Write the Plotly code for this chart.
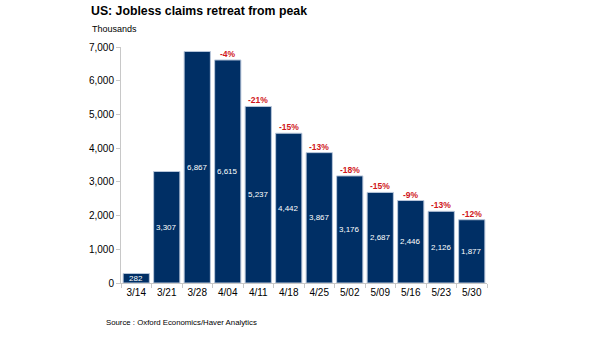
import plotly.graph_objects as go

weeks = ["3/14", "3/21", "3/28", "4/04", "4/11", "4/18", "4/25", "5/02", "5/09", "5/16", "5/23", "5/30"]
claims = [282, 3307, 6867, 6615, 5237, 4442, 3867, 3176, 2687, 2446, 2126, 1877]
pct_change = [None, None, None, "-4%", "-21%", "-15%", "-13%", "-18%", "-15%", "-9%", "-13%", "-12%"]

FONT = "Liberation Sans, Arial, sans-serif"
NAVY = "#002F65"
RED = "#D0161C"

fig = go.Figure()
fig.add_trace(go.Bar(
    x=weeks, y=claims,
    marker=dict(color=NAVY, line=dict(color="#B8C6DA", width=1)),
    width=0.86,
    hoverinfo="skip",
))

for w, v in zip(weeks, claims):
    fig.add_annotation(x=w, y=v / 2, text=f"{v:,}", showarrow=False,
                       font=dict(family=FONT, size=8, color="white"))
for w, v, p in zip(weeks, claims, pct_change):
    if p:
        fig.add_annotation(x=w, y=v, text=f"<b>{p}</b>", showarrow=False, yanchor="bottom", yshift=-1,
                           font=dict(family=FONT, size=8.5, color=RED))

fig.add_annotation(xref="paper", yref="paper", x=-0.087, y=1.153, xanchor="left", yanchor="middle",
                   text="<b>US: Jobless claims retreat from peak</b>", showarrow=False,
                   font=dict(family=FONT, size=12.3, color="black"))
fig.add_annotation(xref="paper", yref="paper", x=-0.084, y=1.076, xanchor="left", yanchor="middle",
                   text="Thousands", showarrow=False,
                   font=dict(family=FONT, size=9, color="black"))
fig.add_annotation(xref="paper", yref="paper", x=-0.047, y=-0.169, xanchor="left", yanchor="middle",
                   text="Source : Oxford Economics/Haver Analytics", showarrow=False,
                   font=dict(family=FONT, size=7.8, color="black"))

fig.update_layout(
    width=605, height=341,
    margin=dict(l=121, r=118, t=47, b=58),
    paper_bgcolor="white", plot_bgcolor="white",
    showlegend=False,
    font=dict(family=FONT, size=10, color="black"),
    xaxis=dict(showline=True, linecolor="#C8C8C8", linewidth=1, ticks="outside", tickson="boundaries",
               ticklen=4, tickcolor="#C8C8C8", tickfont=dict(size=10), showgrid=False),
    yaxis=dict(range=[0, 7000], dtick=1000, tickformat=",", showline=True, linecolor="#C8C8C8",
               linewidth=1, ticks="outside", ticklen=4, tickcolor="#C8C8C8", showgrid=False,
               zeroline=False, tickfont=dict(size=10)),
)

fig.write_html("out.html")
